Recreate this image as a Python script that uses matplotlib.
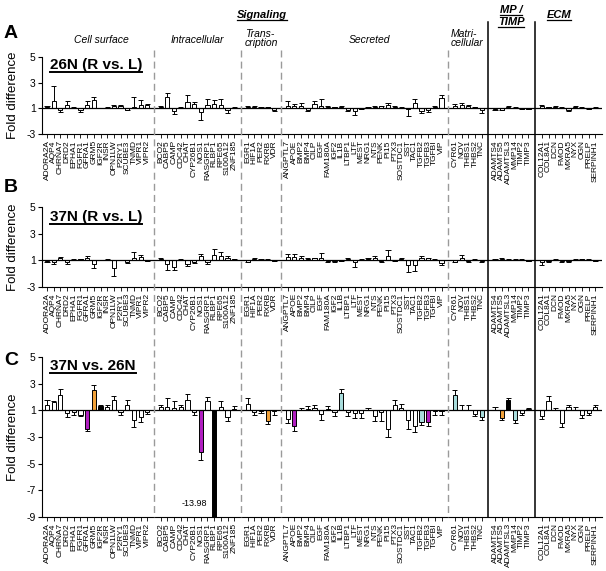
import matplotlib
matplotlib.use("Agg")
import matplotlib.pyplot as plt
import matplotlib.transforms as mtransforms
from matplotlib.lines import Line2D
import numpy as np

plt.rcParams["font.family"] = ["Liberation Sans", "DejaVu Sans"]

# gene groups (one empty slot between groups)
cell_surface = ["ADORA2A", "AQP4", "CHRNA7", "DRD2", "EPHA1", "FGFR1", "GFRA1", "GRM5",
                "IGF2R", "INSR", "OPN1LW", "P2RY1", "SCUBE3", "TNMD", "VIPR1", "VIPR2"]
intracellular = ["BCO2", "CABP5", "CAMP", "CDC42", "CHAT", "CYP26B1", "NOS1", "RASGRP1",
                 "RLBP1", "RPE65", "S100A12", "ZNF185"]
transcription = ["EGR1", "HIF1A", "PER2", "RXRB", "VDR"]
secreted = ["ANGPTL7", "APOE", "BMP2", "BMP4", "CILP", "EGF", "FAM180A", "IGF2", "IL1B",
            "LTBP1", "LTF", "MEST", "NRG1", "NTS", "PENK", "PI15", "PTX3", "SOSTDC1", "SST",
            "TAC1", "TGFB2", "TGFB3", "TGFBI", "VIP"]
matricellular = ["CYR61", "NOV", "THBS1", "THBS2", "TNC"]
mp_timp = ["ADAMTS4", "ADAMTS5", "ADAMTSL3", "MMP14", "TIMP2", "TIMP3"]
ecm = ["COL12A1", "COL8A1", "DCN", "FMOD", "MXRA5", "NYX", "OGN", "PRELP", "SERPINH1"]
groups = [cell_surface, intracellular, transcription, secreted, matricellular, mp_timp, ecm]

# fold differences (negative = down) and SEM, in gene order
a_vals = [1.12, 1.6, -1.15, 1.28, 1.05, -1.15, 1.28, 1.67, 1.03, 1.05, 1.2, 1.15, -1.1, 1.1, 1.28, 1.25,
          1.1, 1.9, -1.2, 1.05, 1.47, 1.33, -1.3, 1.28, 1.33, 1.28, -1.15, 1.05,
          1.1, 1.1, 1.05, 1.1, -1.1,
          1.2, 1.15, 1.2, -1.1, 1.35, 1.2, 1.1, 1.1, 1.1, -1.1, -1.2, -1.03, 1.1, 1.1, 1.15, 1.25,
          1.1, 1.05, -1.05, 1.45, -1.2, -1.15, 1.1, 1.8,
          1.2, 1.25, 1.2, 1.1, -1.15,
          -1.05, -1.1, 1.1, 1.05, -1.05, -1.05,
          1.15, 1.1, 1.1, 1.05, -1.1, 1.1, 1.05, -1.05, 1.05]
a_errs = [0.05, 1.15, 0.1, 0.3, 0.02, 0.1, 0.3, 0.18, 0.02, 0.02, 0.08, 0.1, 0.05, 0.75, 0.4, 0.05,
          0.05, 0.27, 0.25, 0.02, 0.55, 0.15, 0.6, 0.47, 0.35, 0.47, 0.25, 0.02,
          0.05, 0.05, 0.03, 0.03, 0.1,
          0.35, 0.15, 0.25, 0.1, 0.2, 0.5, 0.1, 0.03, 0.1, 0.1, 0.35, 0.02, 0.03, 0.05, 0.05, 0.15,
          0.1, 0.02, 0.55, 0.25, 0.2, 0.15, 0.05, 0.25,
          0.1, 0.15, 0.03, 0.03, 0.25,
          0.05, 0.03, 0.05, 0.05, 0.02, 0.02,
          0.1, 0.03, 0.05, 0.02, 0.1, 0.05, 0.05, 0.02, 0.02]

b_vals = [-1.05, -1.1, 1.15, -1.15, 1.05, 1.1, 1.2, -1.3, 1.03, 1.05, -1.55, 1.03, -1.1, 1.2, 1.25, -1.05,
          1.1, -1.3, -1.5, 1.05, -1.3, -1.1, 1.35, -1.15, 1.4, 1.3, 1.15, 1.1,
          -1.1, 1.1, 1.05, 1.05, -1.05,
          1.25, 1.25, 1.2, 1.1, 1.15, 1.15, -1.05, -1.05, -1.05, 1.1, -1.1, 1.05, 1.1, 1.15, -1.05, 1.3,
          -1.05, 1.1, -1.35, -1.35, 1.2, 1.15, 1.05, -1.2,
          -1.1, 1.2, -1.05, 1.05, -1.05,
          1.05, 1.1, 1.05, 1.05, 1.05, -1.05,
          -1.1, -1.05, 1.05, -1.05, -1.05, 1.05, 1.1, 1.05, -1.05]
b_errs = [0.05, 0.2, 0.1, 0.15, 0.02, 0.03, 0.1, 0.25, 0.02, 0.02, 0.65, 0.02, 0.1, 0.45, 0.15, 0.03,
          0.05, 0.4, 0.25, 0.02, 0.15, 0.1, 0.15, 0.15, 0.45, 0.3, 0.15, 0.03,
          0.05, 0.1, 0.02, 0.02, 0.03,
          0.25, 0.2, 0.1, 0.05, 0.03, 0.4, 0.05, 0.05, 0.03, 0.1, 0.4, 0.02, 0.05, 0.2, 0.05, 0.45,
          0.03, 0.05, 0.55, 0.45, 0.1, 0.05, 0.05, 0.15,
          0.05, 0.2, 0.05, 0.02, 0.1,
          0.02, 0.05, 0.05, 0.02, 0.05, 0.02,
          0.25, 0.05, 0.02, 0.05, 0.1, 0.02, 0.03, 0.02, 0.02]

c_vals = [1.43, 1.6, 2.13, -1.18, -1.15, -1.33, -2.38, 2.5, 1.3, 1.25, 1.75, -1.1, 1.43, -1.75, -1.5, -1.15,
          1.25, 1.25, 1.15, 1.25, 1.8, -1.1, -4.13, 1.68, -13.98, 1.25, -1.5, 1.13,
          1.5, -1.15, -1.08, -1.83, -1.05,
          -1.63, -2.2, 1.05, 1.1, 1.15, -1.25, 1.1, -1.1, 2.33, -1.15, -1.2, -1.2, 1.05, -1.4, -1.1, -2.38,
          1.43, 1.2, -1.75, -2.2, -1.88, -1.88, -1.05, -1.05,
          2.13, 1.05, 1.05, -1.3, -1.5,
          1.02, -1.58, 1.75, -1.75, -1.2, 1.1,
          -1.43, 1.68, 1.05, -1.95, 1.25, 1.02, -1.35, -1.2, 1.25]
c_errs = [0.32, 0.1, 0.5, 0.32, 0.23, 0.12, 0.2, 0.38, 0.08, 0.13, 0.33, 0.28, 0.32, 0.5, 0.38, 0.15,
          0.18, 0.68, 0.55, 0.18, 0.4, 0.28, 0.6, 0.32, 0.0, 0.45, 0.3, 0.17,
          0.45, 0.23, 0.12, 0.22, 0.33,
          0.3, 0.38, 0.15, 0.23, 0.25, 0.5, 0.2, 0.35, 0.3, 0.3, 0.38, 0.35, 0.15, 0.4, 0.7, 0.62,
          0.37, 0.25, 0.63, 0.43, 0.2, 0.32, 0.33, 0.33,
          0.37, 0.33, 0.33, 0.13, 0.25,
          0.23, 0.17, 0.2, 0.18, 0.18, 0.08,
          0.2, 0.4, 0.13, 0.3, 0.13, 0.23, 0.23, 0.13, 0.18]

ORANGE, PURPLE, CYAN, BLACK = "#F2A23A", "#B01EC0", "#A8DCDC", "black"
c_highlight = {"GFRA1": PURPLE, "GRM5": ORANGE, "IGF2R": BLACK, "NOS1": PURPLE, "RLBP1": BLACK,
               "RXRB": ORANGE, "APOE": PURPLE, "IL1B": CYAN, "TGFB2": CYAN, "TGFB3": PURPLE,
               "CYR61": CYAN, "TNC": CYAN, "ADAMTS5": ORANGE, "ADAMTSL3": BLACK, "MMP14": CYAN}

genes = [g for grp in groups for g in grp]
slots = []
gap_slots = []
pos = 0
for grp in groups:
    for _ in grp:
        slots.append(pos)
        pos += 1
    gap_slots.append(pos)
    pos += 1
gap_slots = gap_slots[:-1]
slots = np.array(slots)
XMIN, XMAX = -0.75, 83.0

W, H = 606, 571
fig = plt.figure(figsize=(W / 100, H / 100), dpi=100)


def fx(px):
    return px / W


def fy(px):
    return 1 - px / H


def to_plot(v):
    v = np.asarray(v, dtype=float)
    return np.where(v > 0, v - 1, v + 1)


def draw_panel(ax, vals, errs, colors, ymin, ticks):
    t = to_plot(vals)
    sign = np.where(t >= 0, 1, -1)
    tips = t + sign * np.asarray(errs)
    ax.bar(slots, t, width=0.62, color=colors, edgecolor="black", linewidth=0.7, zorder=2)
    ax.vlines(slots, t, tips, color="black", lw=0.7, zorder=2)
    ax.hlines(tips, slots - 0.38, slots + 0.38, color="black", lw=0.7, zorder=2)
    ax.axhline(0, color="black", lw=0.9, zorder=3)
    ax.set_xlim(XMIN, XMAX)
    ax.set_ylim(ymin, 4)
    ax.set_yticks([to_plot(v) for v in ticks])
    ax.set_yticklabels([str(v) for v in ticks])
    ax.set_xticks(slots)
    ax.set_xticklabels(genes, rotation=90, fontsize=6)
    ax.tick_params(axis="x", length=3, width=0.6, pad=1.5)
    ax.tick_params(axis="y", length=3, width=0.8, labelsize=7.5, pad=1.5)
    for s in ["top", "right"]:
        ax.spines[s].set_visible(False)
    for s in ["left", "bottom"]:
        ax.spines[s].set_linewidth(0.8)
    ax.set_ylabel("Fold difference", fontsize=9.5)
    ax.yaxis.set_label_coords(-0.041, 0.5)


ax_a = fig.add_axes([fx(42), fy(134), fx(560), 77 / H])
ax_b = fig.add_axes([fx(42), fy(287), fx(560), 80 / H])
ax_c = fig.add_axes([fx(42), fy(517), fx(560), 160 / H])

draw_panel(ax_a, a_vals, a_errs, "white", -2, [5, 3, 1, -3])
draw_panel(ax_b, b_vals, b_errs, "white", -2, [5, 3, 1, -3])
c_colors = [c_highlight.get(g, "white") for g in genes]
draw_panel(ax_c, c_vals, c_errs, c_colors, -8, [5, 3, 1, -3, -5, -7, -9])
ax_c.text(24.0, -7.0, "-13.98", ha="right", va="center", fontsize=6.5)

# group separators running through all panels
blend = mtransforms.blended_transform_factory(ax_c.transData, fig.transFigure)
for i, g in enumerate(gap_slots):
    if i < 4:
        fig.add_artist(Line2D([g, g], [fy(50), fy(517)], transform=blend, color="#9a9a9a",
                              lw=1.0, linestyle=(0, (5, 3))))
    else:
        fig.add_artist(Line2D([g, g], [fy(22), fy(517)], transform=blend, color="black", lw=1.1))

# panel letters and titles
for letter, ypx in [("A", 38), ("B", 192), ("C", 365)]:
    fig.text(fx(4), fy(ypx), letter, fontsize=14, fontweight="bold", va="baseline")

to_underline = []
for title, ypx in [("26N (R vs. L)", 69), ("37N (R vs. L)", 221), ("37N vs. 26N", 370)]:
    txt = fig.text(fx(50), fy(ypx), title, fontsize=11, fontweight="bold", va="baseline")
    to_underline.append((txt, ypx + 3, 1.4))

# category headers
for label, xpx in [("Cell surface", 101), ("Intracellular", 197), ("Secreted", 369)]:
    fig.text(fx(xpx), fy(43), label, fontsize=7.5, style="italic", ha="center", va="baseline")
fig.text(fx(245), fy(37), "Trans-", fontsize=7.5, style="italic", va="baseline")
fig.text(fx(245), fy(46), "cription", fontsize=7.5, style="italic", va="baseline")
fig.text(fx(451), fy(37), "Matri-", fontsize=7.5, style="italic", va="baseline")
fig.text(fx(451), fy(46), "cellular", fontsize=7.5, style="italic", va="baseline")

for label, xpx, ypx in [("Signaling", 262, 18), ("MP /", 511, 13), ("TIMP", 511, 25), ("ECM", 559, 18)]:
    txt = fig.text(fx(xpx), fy(ypx), label, fontsize=8, fontweight="bold",
                   style="italic", ha="center", va="baseline")
    to_underline.append((txt, ypx + 2.2, 0.9))

fig.canvas.draw()
inv = fig.transFigure.inverted()
for txt, upx, lw in to_underline:
    bb = txt.get_window_extent().transformed(inv)
    fig.add_artist(Line2D([bb.x0, bb.x1], [fy(upx), fy(upx)], transform=fig.transFigure,
                          color="black", lw=lw))

fig.savefig("out.png", dpi=100)
